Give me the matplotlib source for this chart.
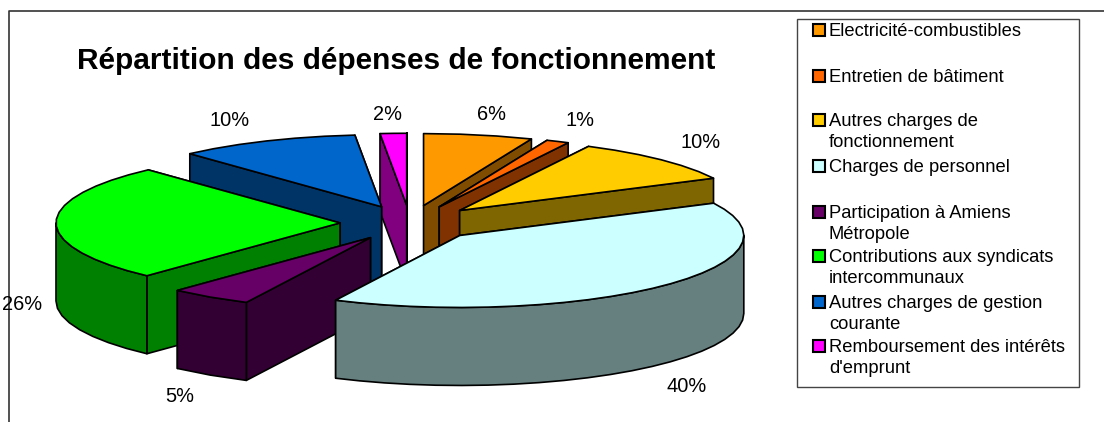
import numpy as np
import matplotlib
matplotlib.use("Agg")
import matplotlib.pyplot as plt
from matplotlib.patches import Polygon, Rectangle

plt.rcParams["font.family"] = ["Liberation Sans", "DejaVu Sans"]

title = "Répartition des dépenses de fonctionnement"
categories = [
    "Electricité-combustibles",
    "Entretien de bâtiment",
    "Autres charges de\nfonctionnement",
    "Charges de personnel",
    "Participation à Amiens\nMétropole",
    "Contributions aux syndicats\nintercommunaux",
    "Autres charges de gestion\ncourante",
    "Remboursement des intérêts\nd'emprunt",
]
# parts
values = [6.2, 1.3, 10.1, 39.6, 4.7, 26.3, 10.3, 1.5]
colors = ["#FF9900", "#FF6600", "#FFCC00", "#CCFFFF", "#660066", "#00FF00", "#0066CC", "#FF00FF"]
side_colors = ["#804D00", "#803300", "#806600", "#668080", "#330033", "#008000", "#003366", "#800080"]

# mise en page en pixels
cx, cy = 410, 223
rx, ry = 284, 72
depth = 78
explode = 70
draw_order = [7, 6, 0, 1, 2, 5, 4, 3]
label_xy = [(491, 115), (580, 120), (701, 142), (687, 387), (180, 397), (22, 304), (230, 120), (388, 114)]
legend_y = [30, 76, 120, 166, 212, 256, 302, 346]

fig = plt.figure(figsize=(11.04, 4.22), dpi=100)
ax = fig.add_axes([0, 0, 1, 1])
ax.set_xlim(0, 1104)
ax.set_ylim(422, 0)
ax.axis("off")

# cadre du graphique (seulement haut et gauche visibles)
ax.plot([1104, 9, 9], [11, 11, 422], color="#333333", lw=1.2, solid_capstyle="butt")

ax.text(396, 61, title, ha="center", va="center", fontsize=21.5, fontweight="bold", color="black")

total = sum(values)
bounds = np.cumsum([0] + values) / total * 2 * np.pi


def point(tip, t):
    return tip[0] + rx * np.sin(t), tip[1] - ry * np.cos(t)


def wall(p, q):
    return [p, q, (q[0], q[1] + depth), (p[0], p[1] + depth)]


for i in draw_order:
    t0, t1 = bounds[i], bounds[i + 1]
    mid = (t0 + t1) / 2
    tip = (cx + explode * np.sin(mid), cy - explode * ry / rx * np.cos(mid))
    ts = np.linspace(t0, t1, max(3, int(np.degrees(t1 - t0) / 5)))
    rim = [point(tip, t) for t in ts]

    # faces radiales, la plus en arriere d'abord
    faces = [(tip, rim[0]), (tip, rim[-1])]
    faces.sort(key=lambda f: f[1][1])
    for a, b in faces:
        ax.add_patch(Polygon(wall(a, b), closed=True, fc=side_colors[i], ec="black", lw=1.2, joinstyle="round"))

    # paroi exterieure : seulement la partie tournee vers l'avant
    lo, hi = max(t0, np.pi / 2), min(t1, 3 * np.pi / 2)
    if hi > lo:
        ts2 = np.linspace(lo, hi, max(3, int(np.degrees(hi - lo) / 5)))
        top = [point(tip, t) for t in ts2]
        bottom = [(x, y + depth) for x, y in reversed(top)]
        ax.add_patch(Polygon(top + bottom, closed=True, fc=side_colors[i], ec="black", lw=1.2, joinstyle="round"))

    ax.add_patch(Polygon([tip] + rim, closed=True, fc=colors[i], ec="black", lw=1.2, joinstyle="round"))

for v, (x, y) in zip(values, label_xy):
    ax.text(x, y, f"{round(v)}%", ha="center", va="center", fontsize=14.4, color="black")

# legende
ax.add_patch(Rectangle((797, 19), 282, 368, fc="white", ec="#444444", lw=1))
for name, col, y in zip(categories, colors, legend_y):
    ax.add_patch(Rectangle((813, y - 6), 12, 12, fc=col, ec="black", lw=1.5))
    ax.text(829, y - 7, name, ha="left", va="top", fontsize=13.2, color="black", linespacing=1.335)

fig.savefig("out.png", dpi=100)
